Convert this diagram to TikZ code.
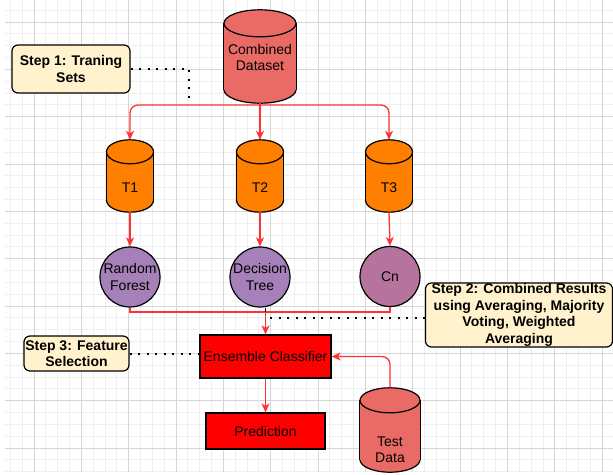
\documentclass[tikz,border=0pt]{standalone}
\usepackage{fontspec}
\setmainfont{Liberation Sans}
\usetikzlibrary{arrows.meta}
\definecolor{dbred}{HTML}{EA6B66}
\definecolor{setorange}{HTML}{FF8000}
\definecolor{modpurple}{HTML}{A680B8}
\definecolor{modpink}{HTML}{B5739D}
\definecolor{notefill}{HTML}{FFF2CC}
\definecolor{flowred}{HTML}{FF3333}
\definecolor{gridmajor}{HTML}{D6D6D6}
\definecolor{gridminor}{HTML}{EFEFEF}
% cylinder drawn round a named node: node, x radius, y radius, fill
\newcommand\drawdb[4]{%
  \filldraw[fill=#4, draw=black, line width=1.2pt] ([yshift=#3pt]#1.south) ellipse [x radius=#2pt, y radius=#3pt];
  \fill[#4] ([yshift=-#3pt]#1.north west) rectangle ([yshift=#3pt]#1.south east);
  \draw[line width=1.2pt] ([yshift=-#3pt]#1.north west) -- ([yshift=#3pt]#1.south west);
  \draw[line width=1.2pt] ([yshift=-#3pt]#1.north east) -- ([yshift=#3pt]#1.south east);
  \filldraw[fill=#4, draw=black, line width=1.2pt] ([yshift=-#3pt]#1.north) ellipse [x radius=#2pt, y radius=#3pt];
}
\begin{document}
\begin{tikzpicture}[x=1pt,y=-1pt,
  every node/.style={font=\fontsize{14}{16.5}\selectfont, align=center, inner sep=0pt},
  db/.style={rectangle, minimum width=#1},
  model/.style={circle, draw=black, line width=1.2pt, fill=#1, minimum size=60pt},
  block/.style={rectangle, draw=black, line width=1.2pt, fill=red},
  note/.style={rectangle, rounded corners=6pt, draw=black, line width=1.2pt, fill=notefill,
    font=\fontsize{14}{16.5}\selectfont\bfseries},
  flow/.style={draw=flowred, line width=1.3pt},
  flowarrow/.style={flow, -{Stealth[length=9pt,width=8pt,inset=2.5pt]}},
  hint/.style={line width=2pt, dash pattern=on 2pt off 6.5pt}]
\useasboundingbox (0,0) rectangle (613,474);
\begin{scope}
\clip (5,0) rectangle (613,472);
\foreach \k in {0,...,51} \draw[gridminor, line width=1pt] ({10.325+11.8375*\k},0) -- ++(0,472);
\foreach \k in {0,...,39} \draw[gridminor, line width=1pt] (5,{10.1625+11.8375*\k}) -- ++(608,0);
\foreach \k in {0,...,12} \draw[gridmajor, line width=1pt] ({34+47.35*\k},0) -- ++(0,472);
\foreach \k in {0,...,9} \draw[gridmajor, line width=1pt] (5,{22+47.35*\k}) -- ++(608,0);
\end{scope}

\node[db=72pt, minimum height=93pt] (cd) at (260,56.5) {};
\drawdb{cd}{36}{13.5}{dbred}
\node at ([yshift=-1pt]cd.center) {Combined\\Dataset};
\node[db=47pt, minimum height=72pt] (t1) at (130,176) {};
\drawdb{t1}{23.5}{12}{setorange}
\node at ([yshift=-12pt]t1.center) {T1};
\node[db=47pt, minimum height=72pt] (t2) at (260,176) {};
\drawdb{t2}{23.5}{12}{setorange}
\node at ([yshift=-12pt]t2.center) {T2};
\node[db=47pt, minimum height=72pt] (t3) at (389,176) {};
\drawdb{t3}{23.5}{12}{setorange}
\node at ([yshift=-12pt]t3.center) {T3};
\node[model=modpurple] (rf) at (130,277) {Random\\Forest};
\node[model=modpurple] (dt) at (260,277) {Decision\\Tree};
\node[model=modpink] (cn) at (390,276.5) {Cn};
\node[block, minimum width=131pt, minimum height=43pt] (ens) at (265.5,356.5) {Ensemble Classifier};
\node[block, minimum width=119pt, minimum height=36pt] (pred) at (265.5,431) {Prediction};
\node[db=60pt, minimum height=84pt] (td) at (390,430) {};
\drawdb{td}{30}{12.5}{dbred}
\node at ([yshift=-19.5pt]td.center) {Test\\Data};
\node[note, minimum width=118pt, minimum height=48pt] (s1) at (71,69) {Step 1: Traning\\Sets};
\node[note, minimum width=187pt, minimum height=64pt] (s2) at (519,315) {Step 2: Combined Results\\using Averaging, Majority\\Voting, Weighted\\Averaging};
\node[note, minimum width=105pt, minimum height=35pt] (s3) at (76.5,353.5) {Step 3: Feature\\Selection};

\coordinate (split) at (260,105);
\coordinate (join) at (265.5,312);
\coordinate (s1end) at (189,99);
\coordinate (s2end) at (270,318);
\draw[flowarrow] (cd.south) -- (t2.north);
\draw[flowarrow, rounded corners=8pt] (split) -| (t1.north);
\draw[flowarrow, rounded corners=8pt] (split) -| (t3.north);
\draw[flowarrow] (t1.south) -- (rf.north);
\draw[flowarrow] (t2.south) -- (dt.north);
\draw[flowarrow] (t3.south) -- (cn.north);
\draw[flow] (rf.south) |- (join);
\draw[flow] (cn.south) |- (join);
\draw[line width=1.2pt] (dt.south -| join) -- (join);
\draw[flowarrow] (join) -- (ens.north);
\draw[flowarrow] (ens.south) -- (pred.north);
\draw[flowarrow, rounded corners=8pt] (td.north) |- (ens.east);
\draw[hint] (s1.east) -| (s1end);
\draw[hint] (s2end) -- (s2.west |- s2end);
\draw[hint] (s3.east) -- (s3.east -| ens.west);
\end{tikzpicture}
\end{document}
